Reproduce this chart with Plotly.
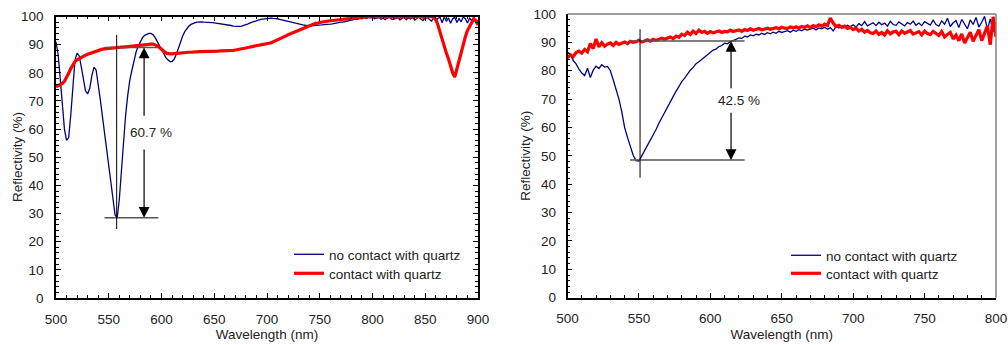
import plotly.graph_objects as go

# ---------------- data ----------------
wl_left = list(range(500, 902, 2))
left_no_contact = [
    91.0, 86.5, 78.0, 68.0, 60.0, 56.0, 57.0, 65.0, 76.0, 84.5,
    87.0, 86.0, 82.0, 77.0, 73.5, 72.5, 74.5, 79.0, 82.0, 81.0,
    76.5, 70.5, 64.5, 58.5, 52.5, 46.0, 39.5, 33.5, 29.5, 28.5,
    35.0, 45.0, 56.0, 65.0, 72.0, 77.5, 81.0, 84.5, 87.5, 89.5,
    91.0, 92.5, 93.3, 93.8, 94.0, 94.0, 93.5, 92.5, 91.0, 89.5,
    88.0, 86.6, 85.5, 84.6, 84.0, 84.0, 84.8, 86.5, 88.8, 91.0,
    93.0, 94.6, 95.8, 96.6, 97.2, 97.6, 97.8, 98.0, 98.1, 98.1,
    98.0, 98.0, 97.9, 97.8, 97.8, 97.7, 97.6, 97.6, 97.5, 97.3,
    97.2, 97.0, 96.9, 96.8, 96.6, 96.5, 96.5, 96.5, 96.6, 96.8,
    97.1, 97.4, 97.7, 98.0, 98.3, 98.6, 98.8, 99.0, 99.1, 99.2,
    99.3, 99.3, 99.4, 99.3, 99.3, 99.2, 99.0, 98.8, 98.6, 98.4,
    98.2, 98.0, 97.8, 97.6, 97.4, 97.3, 97.1, 97.0, 96.9, 96.8,
    96.8, 96.7, 96.8, 96.8, 96.9, 96.9, 97.0, 97.1, 97.1, 97.2,
    97.3, 97.4, 97.6, 97.6, 97.8, 98.0, 98.0, 98.2, 98.4, 98.5,
    98.7, 98.9, 99.1, 99.0, 99.4, 99.2, 99.6, 99.3, 99.7, 99.5,
    99.8, 99.2, 99.6, 99.7, 99.0, 99.4, 98.9, 99.6, 99.8, 99.1,
    99.0, 99.5, 99.7, 98.8, 99.2, 99.9, 98.9, 99.5, 99.1, 99.7,
    98.7, 99.4, 99.8, 99.0, 98.6, 99.5, 99.7, 98.9, 98.4, 99.6,
    98.2, 99.4, 99.7, 97.8, 99.8, 98.3, 99.5, 97.6, 99.2, 99.7,
    97.9, 99.3, 98.1, 99.8, 99.2, 97.7, 99.4, 98.6, 99.7, 98.0,
    98.8,
]
left_contact = [
    75.0, 75.3, 75.7, 76.2, 77.0, 78.2, 79.8, 81.5, 83.0, 84.0,
    84.6, 85.1, 85.5, 85.9, 86.3, 86.6, 86.9, 87.2, 87.5, 87.8,
    88.0, 88.2, 88.4, 88.5, 88.6, 88.7, 88.8, 88.9, 88.9, 89.0,
    89.0, 89.1, 89.1, 89.2, 89.2, 89.3, 89.3, 89.4, 89.5, 89.6,
    89.7, 89.8, 89.9, 90.0, 90.1, 90.2, 90.2, 90.0, 89.6, 89.0,
    88.3, 87.6, 87.1, 86.8, 86.7, 86.7, 86.8, 86.9, 87.0, 87.1,
    87.2, 87.2, 87.3, 87.3, 87.3, 87.4, 87.4, 87.4, 87.5, 87.5,
    87.5, 87.5, 87.6, 87.6, 87.6, 87.7, 87.7, 87.7, 87.8, 87.8,
    87.8, 87.9, 87.9, 88.0, 88.0, 88.1, 88.2, 88.3, 88.4, 88.6,
    88.8, 89.0, 89.2, 89.4, 89.5, 89.7, 89.8, 89.9, 90.0, 90.1,
    90.3, 90.5, 90.7, 91.0, 91.3, 91.6, 91.9, 92.3, 92.7, 93.1,
    93.5, 93.8, 94.1, 94.4, 94.7, 95.0, 95.4, 95.8, 96.2, 96.5,
    96.8, 97.1, 97.3, 97.6, 97.7, 97.9, 98.0, 98.2, 98.3, 98.4,
    98.5, 98.6, 98.6, 98.7, 98.8, 98.8, 98.9, 99.0, 99.1, 99.2,
    99.3, 99.4, 99.5, 99.6, 99.6, 99.7, 99.8, 99.8, 99.9, 100.0,
    99.8, 100.0, 99.9, 100.0, 99.8, 100.0, 99.9, 99.7, 100.0, 99.8,
    100.0, 99.9, 100.0, 99.8, 100.0, 99.9, 99.7, 100.0, 99.8, 99.9,
    100.0, 99.8, 100.0, 99.9, 99.7, 100.0, 99.8, 99.9, 100.0, 99.8,
    99.0, 97.0, 94.5, 91.5, 89.0, 87.0, 85.0, 82.5, 80.0, 78.5,
    81.5, 84.5, 87.5, 90.0, 92.8, 95.0, 96.5, 98.0, 99.2, 98.5,
    97.0,
]

wl_right = list(range(500, 802, 2))
right_no_contact = [
    86.5, 85.8, 83.6, 82.4, 80.6, 79.2, 78.3, 80.9, 77.6, 80.2,
    81.6, 80.8, 82.1, 81.3, 81.5, 80.0, 76.8, 73.5, 70.0, 65.5,
    60.0, 56.5, 53.0, 50.2, 48.3, 48.2, 50.0, 51.8, 53.6, 55.4,
    57.2, 59.3, 61.5, 63.4, 65.4, 67.5, 69.2, 71.0, 72.8, 74.4,
    76.2, 77.4, 79.0, 80.2, 81.2, 82.5, 83.2, 84.0, 85.1, 85.6,
    86.4, 87.3, 87.6, 88.5, 88.9, 89.7, 89.5, 90.3, 90.6, 91.0,
    91.6, 91.4, 92.2, 91.9, 92.6, 92.3, 92.9, 92.6, 93.2, 92.8,
    93.4, 93.0, 93.6, 93.2, 93.9, 93.5, 93.7, 94.1, 93.6, 94.3,
    93.9, 94.5, 94.1, 94.7, 94.3, 94.6, 95.0, 94.4, 95.1, 94.8,
    95.3, 94.6, 95.2, 94.0, 95.6, 95.1, 95.8, 95.3, 96.0, 95.5,
    96.2, 95.4, 96.6, 95.9, 97.3, 95.8, 96.4, 96.9, 95.9, 97.1,
    96.2, 96.8, 95.7, 97.4, 96.3, 96.0, 97.2, 96.5, 95.8, 97.0,
    96.4, 97.5, 96.0, 96.8, 95.9, 97.3, 96.6, 96.1, 97.8, 96.3,
    95.7, 97.6, 96.4, 98.5, 95.6, 96.9, 97.7, 95.2, 98.1, 96.5,
    94.8, 97.9, 96.3, 98.8, 95.4, 97.1, 99.2, 94.5, 98.3, 93.8,
    97.0,
]
right_contact = [
    84.5, 85.6, 85.0, 86.4, 86.9, 86.2, 87.5, 86.7, 89.6, 87.8,
    91.2, 88.4, 89.9, 88.6, 89.4, 89.8, 88.9, 90.0, 89.3, 89.7,
    90.1, 89.6, 90.4, 90.0, 90.2, 90.7, 90.1, 90.5, 90.9, 90.4,
    91.1, 90.7, 91.0, 91.5, 91.1, 91.4, 91.9, 91.3, 92.2, 91.8,
    92.9, 92.4, 93.6, 92.8, 94.0, 93.1, 94.3, 93.5, 93.9, 93.2,
    93.8, 93.4, 93.6, 94.0, 93.5, 93.9, 93.7, 94.3, 93.8, 94.1,
    94.4, 93.9, 94.5, 94.2, 94.8, 94.3, 94.6, 94.9, 94.4, 94.8,
    95.0, 94.6, 94.9, 95.2, 94.8, 95.3, 95.0, 94.9, 95.4, 95.1,
    95.5, 95.0, 95.6, 95.3, 95.8, 95.2, 95.9, 95.5, 96.2, 95.7,
    96.4, 95.9, 98.6, 96.8, 95.6, 96.0, 95.3, 95.7, 94.9, 95.3,
    94.5, 95.0, 94.0, 94.6, 93.6, 94.2, 93.4, 93.1, 94.0, 92.8,
    93.5, 92.6, 94.1, 93.0, 93.7, 93.9, 92.7, 94.0, 93.2, 93.6,
    94.2, 92.9, 93.5, 93.8, 92.6, 94.0, 93.1, 92.7, 93.9, 93.3,
    92.4, 93.8, 91.9, 92.8, 93.5, 91.2, 92.6, 90.6, 93.0, 89.8,
    91.8, 93.6, 90.4, 92.2, 94.5, 90.6, 93.2, 95.8, 89.2, 99.0,
    92.0,
]

# dip markers
left_dip = dict(wl=557.5, top=89.0, bottom=28.5, arrow_wl=583.5, h_from=546.0, h_to=597.0,
                v_from=24.5, v_to=93.5, label="60.7 %", label_wl=590.0)
right_dip = dict(wl=550.8, top=90.5, bottom=48.5, arrow_wl=614.5, h_from=543.8, h_to=624.0,
                 v_from=42.3, v_to=94.6, label="42.5 %", label_wl=620.0)

NAVY = "#00007F"
RED = "#FF0000"
FONT = "Liberation Sans, Arial, sans-serif"
TXT = "#222222"

fig = go.Figure()
fig.add_trace(go.Scatter(x=wl_left, y=left_no_contact, mode="lines", name="no contact with quartz",
                         line=dict(color=NAVY, width=1.3), xaxis="x", yaxis="y", legend="legend"))
fig.add_trace(go.Scatter(x=wl_left, y=left_contact, mode="lines", name="contact with quartz",
                         line=dict(color=RED, width=3.2), xaxis="x", yaxis="y", legend="legend2"))
fig.add_trace(go.Scatter(x=wl_right, y=right_no_contact, mode="lines", name="no contact with quartz",
                         line=dict(color=NAVY, width=1.3), xaxis="x2", yaxis="y2", legend="legend3"))
fig.add_trace(go.Scatter(x=wl_right, y=right_contact, mode="lines", name="contact with quartz",
                         line=dict(color=RED, width=3.2), xaxis="x2", yaxis="y2", legend="legend4"))

W, H = 1008, 345

shapes = []
annotations = []
for d, xr, yr in [(left_dip, "x", "y"), (right_dip, "x2", "y2")]:
    for lvl in (d["top"], d["bottom"]):
        shapes.append(dict(type="line", xref=xr, yref=yr, x0=d["h_from"], x1=d["h_to"], y0=lvl, y1=lvl,
                           line=dict(color="#555555", width=1.5)))
    shapes.append(dict(type="line", xref=xr, yref=yr, x0=d["wl"], x1=d["wl"], y0=d["v_from"], y1=d["v_to"],
                       line=dict(color="black", width=1)))
    mid = (d["top"] + d["bottom"]) / 2
    gap = (d["top"] - d["bottom"]) * 0.09
    for tip, tail in [(d["top"], mid + gap), (d["bottom"], mid - gap)]:
        annotations.append(dict(x=d["arrow_wl"], y=tip, ax=d["arrow_wl"], ay=tail, xref=xr, yref=yr,
                                axref=xr, ayref=yr, text="", showarrow=True, arrowhead=2, arrowsize=1.8,
                                arrowwidth=1.2, arrowcolor="black", standoff=0, startstandoff=0))
    annotations.append(dict(x=d["label_wl"], y=mid, xref=xr, yref=yr, text=d["label"], showarrow=False,
                            font=dict(family=FONT, size=13.5, color=TXT)))

# left panel y title (placed as text so it sits where the reference has it)
annotations.append(dict(x=17 / W, y=1 - 157 / H, xref="paper", yref="paper", text="Reflectivity (%)",
                        textangle=-90, showarrow=False, xanchor="center", yanchor="middle",
                        font=dict(family=FONT, size=13.5, color=TXT)))

# right panel: grey top and right frame
shapes.append(dict(type="line", xref="x2 domain", yref="y2 domain", x0=0, x1=1, y0=1, y1=1,
                   line=dict(color="#808080", width=1.5)))
shapes.append(dict(type="line", xref="x2 domain", yref="y2 domain", x0=1, x1=1, y0=0, y1=1,
                   line=dict(color="#808080", width=1.5)))


def xd(a, b):
    return [a / W, b / W]

def yd(top, bottom):
    return [1 - bottom / H, 1 - top / H]

axis_common = dict(showgrid=False, zeroline=False, showline=True, linecolor="black", linewidth=1.5,
                   ticks="inside", ticklen=5, tickwidth=1, tickcolor="black", automargin=False,
                   tickfont=dict(family=FONT, size=13.5, color=TXT),
                   title_font=dict(family=FONT, size=13.5, color=TXT))

def leg(xpx, ypx):
    return dict(x=xpx / W, y=1 - ypx / H, xanchor="left", yanchor="top", bgcolor="rgba(0,0,0,0)",
                font=dict(family=FONT, size=13.5, color=TXT))

fig.update_layout(
    width=W, height=H, autosize=False,
    margin=dict(l=0, r=0, t=0, b=0, autoexpand=False),
    paper_bgcolor="white", plot_bgcolor="white",
    font=dict(family=FONT, size=13.5, color=TXT),
    xaxis=dict(domain=xd(56, 478), range=[500, 900], tick0=500, dtick=50, anchor="y", mirror="ticks",
               minor=dict(dtick=10, ticks="inside", ticklen=3, tickcolor="black"),
               ticklabelstandoff=8, title=dict(text="Wavelength (nm)", standoff=1), **axis_common),
    yaxis=dict(domain=yd(16.5, 298), range=[0, 100], tick0=0, dtick=10, anchor="x", mirror="ticks",
               minor=dict(dtick=2, ticks="inside", ticklen=3, tickcolor="black"),
               ticklabelstandoff=8, **axis_common),
    xaxis2=dict(domain=xd(567.5, 996), range=[500, 800], tick0=500, dtick=50, anchor="y2",
                minor=dict(dtick=10, ticks="inside", ticklen=3, tickcolor="black"),
                ticklabelstandoff=7, title=dict(text="Wavelength (nm)", standoff=5), **axis_common),
    yaxis2=dict(domain=yd(14, 297.7), range=[0, 100], tick0=0, dtick=10, anchor="x2",
                minor=dict(dtick=2, ticks="inside", ticklen=3, tickcolor="black"),
                ticklabelstandoff=7, title=dict(text="Reflectivity (%)", standoff=0), **axis_common),
    legend=leg(289, 239), legend2=leg(289, 258),
    legend3=leg(786, 240), legend4=leg(786, 258),
    shapes=shapes,
    annotations=annotations,
    showlegend=True,
)

fig.write_html("out.html")
